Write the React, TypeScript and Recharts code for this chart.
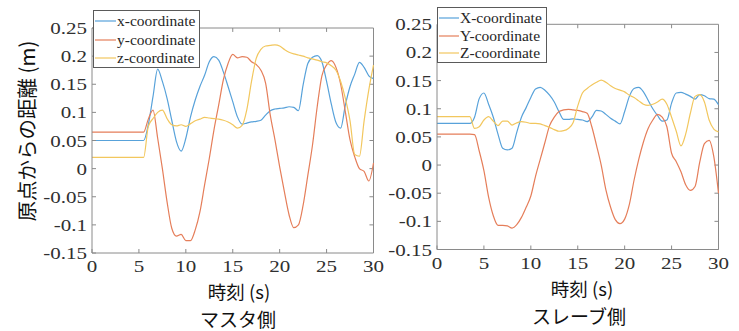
import { LineChart, Line, XAxis, YAxis, Legend, ReferenceLine } from "recharts";

// time axis (s), shared by both panels
const TIME = Array.from({ length: 61 }, (_, i) => i * 0.5);

const X_TICKS = [0, 5, 10, 15, 20, 25, 30];
const Y_TICKS = [-0.15, -0.1, -0.05, 0, 0.05, 0.1, 0.15, 0.2, 0.25];

// master side
const MASTER_X = [
  0.05, 0.05, 0.05, 0.05, 0.05, 0.05, 0.05, 0.05, 0.05, 0.05, 0.05, 0.05,
  0.078, 0.128, 0.177, 0.155, 0.125, 0.086, 0.048, 0.031, 0.054, 0.092, 0.122, 0.146,
  0.166, 0.19, 0.199, 0.193, 0.172, 0.146, 0.119, 0.092, 0.079, 0.081, 0.083, 0.084,
  0.086, 0.095, 0.103, 0.106, 0.107, 0.108, 0.11, 0.109, 0.103, 0.149, 0.187, 0.198,
  0.201, 0.19, 0.155, 0.115, 0.082, 0.072, 0.113, 0.146, 0.168, 0.189, 0.18, 0.165, 0.16,
];
const MASTER_Y = [
  0.065, 0.065, 0.065, 0.065, 0.065, 0.065, 0.065, 0.065, 0.065, 0.065, 0.065, 0.065,
  0.088, 0.104, 0.054, 0.0, -0.059, -0.106, -0.12, -0.117, -0.128, -0.128, -0.109, -0.077,
  -0.029, 0.018, 0.069, 0.113, 0.158, 0.187, 0.203, 0.197, 0.199, 0.198, 0.19, 0.185,
  0.175, 0.152, 0.095, 0.051, 0.003, -0.041, -0.082, -0.105, -0.1, -0.065, -0.012, 0.042,
  0.11, 0.165, 0.184, 0.192, 0.18, 0.15, 0.101, 0.051, 0.021, 0.0, -0.005, -0.022, 0.01,
];
const MASTER_Z = [
  0.02, 0.02, 0.02, 0.02, 0.02, 0.02, 0.02, 0.02, 0.02, 0.02, 0.02, 0.02,
  0.075, 0.089, 0.1, 0.104, 0.089, 0.078, 0.076, 0.078, 0.075, 0.08, 0.085, 0.088,
  0.091, 0.09, 0.089, 0.088, 0.086, 0.083, 0.078, 0.072, 0.077, 0.105, 0.155, 0.196,
  0.212, 0.218, 0.219, 0.22, 0.218, 0.212, 0.207, 0.204, 0.202, 0.2, 0.197, 0.195,
  0.193, 0.19, 0.188, 0.183, 0.175, 0.155, 0.125, 0.085, 0.025, 0.022, 0.085, 0.14, 0.184,
];

// slave side
const SLAVE_X = [
  0.074, 0.074, 0.074, 0.074, 0.074, 0.074, 0.074, 0.074,
  0.085, 0.118, 0.128, 0.108, 0.085, 0.055, 0.03, 0.027, 0.03, 0.058, 0.085, 0.102,
  0.12, 0.135, 0.138, 0.133, 0.124, 0.112, 0.095, 0.081, 0.081, 0.082, 0.081, 0.08,
  0.077, 0.085, 0.097, 0.096, 0.09, 0.083, 0.078, 0.073, 0.095, 0.122, 0.136, 0.138,
  0.13, 0.115, 0.1, 0.088, 0.078, 0.08, 0.11, 0.128, 0.129, 0.126, 0.122, 0.117,
  0.125, 0.123, 0.118, 0.117, 0.107,
];
const SLAVE_Y = [
  0.055, 0.055, 0.055, 0.055, 0.055, 0.055, 0.055, 0.055,
  0.054, 0.025, -0.01, -0.057, -0.09, -0.107, -0.107, -0.108, -0.112, -0.106, -0.093, -0.075,
  -0.055, -0.02, 0.01, 0.04, 0.07, 0.085, 0.095, 0.098, 0.099, 0.098, 0.097, 0.095,
  0.092, 0.068, 0.035, 0.0, -0.044, -0.075, -0.097, -0.104, -0.096, -0.07, -0.027, 0.01,
  0.041, 0.065, 0.08, 0.09, 0.085, 0.068, 0.021, 0.006, -0.012, -0.035, -0.045, -0.038,
  0.005, 0.038, 0.044, 0.015, -0.05,
];
const SLAVE_Z = [
  0.086, 0.086, 0.086, 0.086, 0.086, 0.086, 0.086, 0.086,
  0.065, 0.068, 0.08, 0.086, 0.078, 0.07, 0.078, 0.078, 0.071, 0.075, 0.077, 0.076,
  0.074, 0.074, 0.073, 0.07, 0.067, 0.063, 0.06, 0.061, 0.065, 0.075, 0.105, 0.128,
  0.136, 0.142, 0.147, 0.151, 0.147, 0.141, 0.136, 0.133, 0.13, 0.124, 0.12, 0.114,
  0.108, 0.106, 0.108, 0.112, 0.117, 0.108, 0.085, 0.06, 0.034, 0.055, 0.092, 0.122,
  0.125, 0.112, 0.08, 0.064, 0.059,
];

const BLUE = "#58a2da";
const ORANGE = "#e57e5a";
const YELLOW = "#f2c75e";
const AXIS = "#8a8a8a";
const SERIF = "'Liberation Serif', 'Times New Roman', serif";
const JP = "'Noto Sans CJK JP', 'Noto Sans', sans-serif";

const X_MAX = 30;
const Y_MAX = 0.25;
// inward tick length expressed in data units (about 4px)
const TICK_DX = 0.43;
const TICK_DY = 0.007;

const masterData = TIME.map((t, i) => ({ t, x: MASTER_X[i], y: MASTER_Y[i], z: MASTER_Z[i] }));
const slaveData = TIME.map((t, i) => ({ t, x: SLAVE_X[i], y: SLAVE_Y[i], z: SLAVE_Z[i] }));

const fmt = (v: number) => String(Number(v.toFixed(2)));

// matlab-ish tick labels: slightly wide serif digits
const YTick = (props: any) => {
  const { x, y, payload } = props;
  return (
    <g transform={`translate(${x},${y}) scale(1.2,1)`}>
      <text x={0} y={6} textAnchor="end" fontFamily={SERIF} fontSize={17.5} fill="#303030">
        {fmt(payload.value)}
      </text>
    </g>
  );
};

const XTick = (props: any) => {
  const { x, y, payload } = props;
  return (
    <g transform={`translate(${x},${y}) scale(1.2,1)`}>
      <text x={0} y={19.5} textAnchor="middle" fontFamily={SERIF} fontSize={17.5} fill="#303030">
        {fmt(payload.value)}
      </text>
    </g>
  );
};

const makeLegend = (rowTop: number, rowGap: number, textLeft: number) => (props: any) => {
  const { payload } = props;
  return (
    <div style={{ position: "relative", width: "100%", height: "100%" }}>
      {(payload || []).map((p: any, i: number) => (
        <div
          key={p.value}
          style={{ position: "absolute", left: 0, top: rowTop + i * rowGap - 9, height: 18, width: "100%" }}
        >
          <svg width={textLeft} height={18} style={{ position: "absolute", left: 0, top: 0 }}>
            <line x1={1} x2={textLeft - 1} y1={9} y2={9} stroke={p.color} strokeWidth={1.2} />
          </svg>
          <span
            style={{
              position: "absolute",
              left: textLeft,
              top: 0,
              lineHeight: "18px",
              fontFamily: SERIF,
              fontSize: 15.5,
              color: "#262626",
              whiteSpace: "nowrap",
            }}
          >
            {p.value}
          </span>
        </div>
      ))}
    </div>
  );
};

type PanelProps = {
  data: { t: number; x: number; y: number; z: number }[];
  names: string[];
  width: number;
  margin: { top: number; right: number; bottom: number; left: number };
  legendBox: { left: number; top: number; width: number; height: number };
  legendRows: [number, number, number];
};

function Panel({ data, names, width, margin, legendBox, legendRows }: PanelProps) {
  return (
    <LineChart width={width} height={331} data={data} margin={margin} style={{ overflow: "visible" }}>
      <XAxis
        dataKey="t"
        type="number"
        domain={[0, X_MAX]}
        ticks={X_TICKS}
        height={30}
        stroke={AXIS}
        tickSize={-4}
        tickMargin={4}
        tick={<XTick />}
        interval={0}
      />
      <YAxis
        type="number"
        domain={[-0.15, Y_MAX]}
        ticks={Y_TICKS}
        width={60}
        stroke={AXIS}
        tickSize={-4}
        tickMargin={9}
        tick={<YTick />}
        interval={0}
        allowDataOverflow
      />
      {/* close the box: top and right edges with inward ticks */}
      <ReferenceLine y={Y_MAX} stroke={AXIS} ifOverflow="visible" />
      <ReferenceLine x={X_MAX} stroke={AXIS} ifOverflow="visible" />
      {X_TICKS.slice(1, -1).map((t) => (
        <ReferenceLine
          key={`tx${t}`}
          segment={[{ x: t, y: Y_MAX }, { x: t, y: Y_MAX - TICK_DY }]}
          stroke={AXIS}
          ifOverflow="visible"
        />
      ))}
      {Y_TICKS.slice(1, -1).map((v) => (
        <ReferenceLine
          key={`ty${v}`}
          segment={[{ x: X_MAX, y: v }, { x: X_MAX - TICK_DX, y: v }]}
          stroke={AXIS}
          ifOverflow="visible"
        />
      ))}
      <Line type="monotone" dataKey="x" name={names[0]} stroke={BLUE} strokeWidth={1.2} dot={false} isAnimationActive={false} />
      <Line type="monotone" dataKey="y" name={names[1]} stroke={ORANGE} strokeWidth={1.2} dot={false} isAnimationActive={false} />
      <Line type="monotone" dataKey="z" name={names[2]} stroke={YELLOW} strokeWidth={1.2} dot={false} isAnimationActive={false} />
      <Legend
        layout="vertical"
        align="center"
        verticalAlign="middle"
        content={makeLegend(legendRows[0], legendRows[1], legendRows[2])}
        wrapperStyle={{
          left: legendBox.left,
          top: legendBox.top,
          width: legendBox.width,
          height: legendBox.height,
          background: "#fff",
          border: "1px solid #5a5a5a",
          boxSizing: "border-box",
        }}
      />
    </LineChart>
  );
}

const title = (text: string, x: number, y: number, size: number) => (
  <div
    style={{
      position: "absolute",
      left: x,
      top: y,
      transform: "translate(-50%, -50%)",
      fontFamily: JP,
      fontSize: size,
      lineHeight: 1,
      color: "#111",
      whiteSpace: "nowrap",
    }}
  >
    {text}
  </div>
);

export default function App() {
  return (
    <div style={{ position: "absolute", left: 0, top: 0, width: 739, height: 331, background: "#fff", overflow: "hidden" }}>
      <div style={{ position: "absolute", left: 0, top: 0 }}>
        <Panel
          data={masterData}
          names={["x-coordinate", "y-coordinate", "z-coordinate"]}
          width={390}
          margin={{ top: 28, right: 16.5, bottom: 48, left: 32 }}
          legendBox={{ left: 93, top: 10, width: 107, height: 58 }}
          legendRows={[10, 18.5, 23]}
        />
      </div>
      <div style={{ position: "absolute", left: 370, top: 0 }}>
        <Panel
          data={slaveData}
          names={["X-coordinate", "Y-coordinate", "Z-coordinate"]}
          width={369}
          margin={{ top: 24.3, right: 20.5, bottom: 51.5, left: 7 }}
          legendBox={{ left: 67, top: 7, width: 110, height: 56 }}
          legendRows={[9.7, 17.8, 22]}
        />
      </div>
      {title("時刻 (s)", 239, 290.5, 18.5)}
      {title("マスタ側", 238, 318, 19)}
      {title("時刻 (s)", 582, 287.5, 18.5)}
      {title("スレーブ側", 579, 315, 19)}
      <div
        style={{
          position: "absolute",
          left: 26,
          top: 131,
          transform: "translate(-50%, -50%) rotate(-90deg)",
          fontFamily: JP,
          fontSize: 20.5,
          lineHeight: 1,
          color: "#111",
          whiteSpace: "nowrap",
        }}
      >
        原点からの距離 (m)
      </div>
    </div>
  );
}
